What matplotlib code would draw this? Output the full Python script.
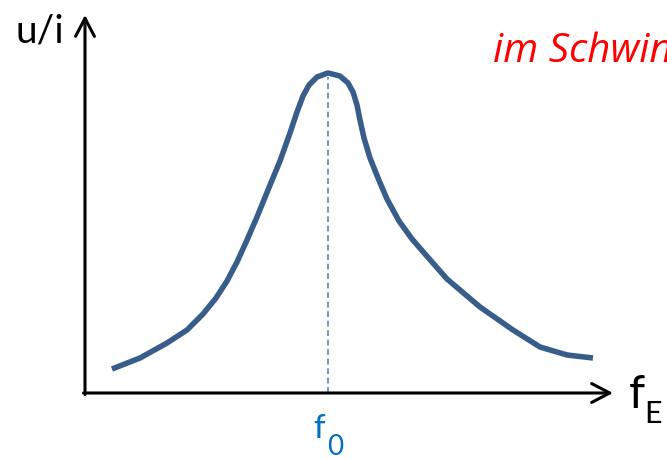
import matplotlib
matplotlib.use("Agg")
import matplotlib.pyplot as plt

# Data (frequency in arbitrary units, amplitude u/i in arbitrary units)
freq = [27, 55, 82, 102, 118, 131, 142, 152, 162, 172, 183, 195, 205, 212, 218,
        224, 232, 243, 255, 263, 268, 272, 275, 279, 285, 293, 302, 314, 327,
        340, 362, 395, 428, 455, 482, 508]
amp = [24, 35, 50, 63, 79, 95, 112, 131, 153, 176, 203, 232, 260, 281, 297,
       308, 316, 320, 317, 310, 301, 288, 273, 255, 235, 215, 194, 172, 154,
       139, 114, 86, 63, 46, 38, 35]
f0 = 243
f0_amp = 316
x_axis_end = 528
y_axis_end = 378

ylabel = "u/i"
xlabel_main, xlabel_sub = "f", "E"
f0_main, f0_sub = "f", "0"
title_text = "im Schwingkreis"

plt.rcParams['font.family'] = ['Lato', 'DejaVu Sans']

fig = plt.figure(figsize=(6.67, 4.59), dpi=100)
ax = fig.add_axes([0, 0, 1, 1])
ax.set_xlim(-85, 582)
ax.set_ylim(-66, 393)
ax.axis('off')


def P(px, py):
    return (px - 85, 393 - py)


# axes with arrows
arrow = dict(arrowstyle='->,head_length=1.3,head_width=0.68', lw=2.2,
             color='black', shrinkA=0, shrinkB=0, mutation_scale=10)
ax.annotate('', xy=(0, y_axis_end), xytext=(0, -1.5), arrowprops=arrow)
ax.annotate('', xy=(x_axis_end, 0), xytext=(-1.5, 0), arrowprops=arrow)

# dashed resonance line
ax.plot([f0, f0], [0, f0_amp], color='#4F86C6', lw=1.2,
        dashes=(3.5, 2.2), zorder=2)

# resonance curve
ax.plot(freq, amp, color='#385D8A', lw=4, solid_joinstyle='round',
        solid_capstyle='butt', zorder=3)

# texts
ax.text(*P(15, 43), ylabel, fontsize=28, color='black', ha='left', va='baseline')
ax.text(*P(493, 62), title_text, fontsize=29, color='#FF0000', style='italic',
        family=['Open Sans', 'DejaVu Sans'],
        ha='left', va='baseline', clip_on=False)
ax.text(*P(629, 408), xlabel_main, fontsize=33, color='black', ha='left', va='baseline')
ax.text(*P(644, 423), xlabel_sub, fontsize=22, color='black', ha='left', va='baseline')
ax.text(*P(313, 438), f0_main, fontsize=24, color='#0070C0', ha='left', va='baseline')
ax.text(*P(327, 455), f0_sub, fontsize=20, color='#0070C0', ha='left', va='baseline')

fig.savefig('out.png', dpi=100)
